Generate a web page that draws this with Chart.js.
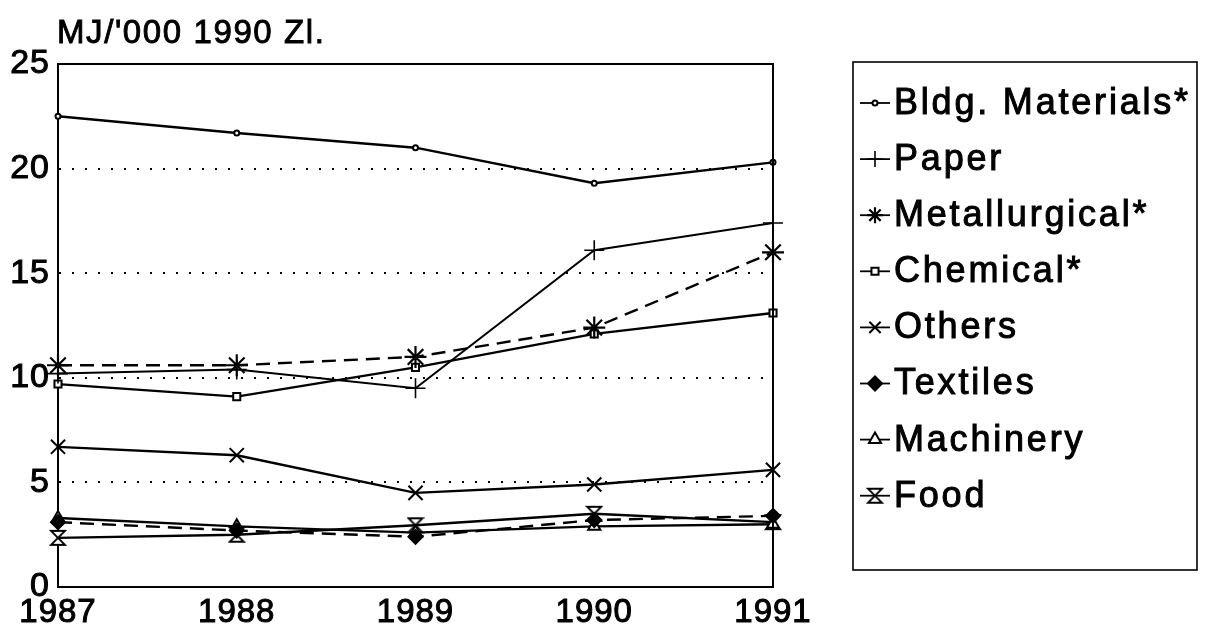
<!DOCTYPE html>
<html>
<head>
<meta charset="utf-8">
<script src="https://cdn.jsdelivr.net/npm/chart.js@4/dist/chart.umd.min.js"></script>
<style>
html,body{margin:0;padding:0;background:#fff;}
#wrap{width:1209px;height:634px;position:relative;}
</style>
</head>
<body>
<div id="wrap"><canvas id="c" width="1209" height="634"></canvas></div>
<script>
const years = ['1987', '1988', '1989', '1990', '1991'];
const bldgMaterials = [22.5, 21.7, 21.0, 19.3, 20.3];
const paper = [10.2, 10.4, 9.5, 16.1, 17.4];
const metallurgical = [10.6, 10.6, 11.0, 12.4, 16.0];
const chemical = [9.7, 9.1, 10.5, 12.1, 13.1];
const others = [6.7, 6.3, 4.5, 4.9, 5.6];
const textiles = [3.1, 2.7, 2.4, 3.2, 3.4];
const machinery = [3.3, 2.9, 2.6, 2.9, 3.0];
const food = [2.35, 2.5, 2.95, 3.5, 3.1];
const yTicks = [0, 5, 10, 15, 20, 25];
const unitLabel = "MJ/'000 1990 Zl.";
const seriesNames = ['Bldg. Materials*', 'Paper', 'Metallurgical*', 'Chemical*', 'Others', 'Textiles', 'Machinery', 'Food'];

const FONT = "'Liberation Sans', Arial, Helvetica, sans-serif";

// hourglass marker
function makeHourglass(r) {
  const s = r * 2 + 4;
  const cv = document.createElement('canvas');
  cv.width = s; cv.height = s;
  const g = cv.getContext('2d');
  const c = s / 2;
  g.lineWidth = 1.8;
  g.strokeStyle = '#000';
  g.fillStyle = '#fff';
  g.beginPath();
  g.moveTo(c - r, c - r);
  g.lineTo(c + r, c - r);
  g.lineTo(c - r, c + r);
  g.lineTo(c + r, c + r);
  g.closePath();
  g.fill();
  g.stroke();
  return cv;
}
const hourglass = makeHourglass(7);

function ds(label, data, style, radius, opts) {
  return Object.assign({
    label: label,
    data: data,
    borderColor: '#000',
    backgroundColor: '#fff',
    borderWidth: 2.4,
    pointStyle: style,
    pointRadius: radius,
    pointBorderWidth: 2,
    pointBorderColor: '#000',
    pointBackgroundColor: '#fff',
    tension: 0,
    fill: false
  }, opts || {});
}

const datasets = [
  ds(seriesNames[0], bldgMaterials, 'circle', 2.5),
  ds(seriesNames[1], paper, 'cross', 10, {pointBorderWidth: 1.6, borderWidth: 2}),
  ds(seriesNames[2], metallurgical, 'star', 11, {borderDash: [14, 8], pointBorderWidth: 2.2}),
  ds(seriesNames[3], chemical, 'rect', 5),
  ds(seriesNames[4], others, 'crossRot', 10, {pointBorderWidth: 2}),
  ds(seriesNames[5], textiles, 'rectRot', 7, {borderDash: [14, 8], pointBackgroundColor: '#000'}),
  ds(seriesNames[6], machinery, 'triangle', 7),
  ds(seriesNames[7], food, hourglass, 7)
];

const decor = {
  id: 'decor',
  beforeDraw(chart) {
    chart.ctx.letterSpacing = '1px';
  },
  afterDraw(chart) {
    const ctx = chart.ctx;
    const a = chart.chartArea;
    ctx.save();
    // frame top and right
    ctx.strokeStyle = '#000';
    ctx.lineWidth = 2;
    ctx.beginPath();
    ctx.moveTo(a.left, a.top);
    ctx.lineTo(a.right, a.top);
    ctx.lineTo(a.right, a.bottom);
    ctx.stroke();
    // unit label
    ctx.fillStyle = '#000';
    ctx.strokeStyle = '#000';
    ctx.font = '33px ' + FONT;
    ctx.letterSpacing = '1.6px';
    ctx.textBaseline = 'middle';
    ctx.textAlign = 'left';
    ctx.lineWidth = 0.9;
    ctx.fillText(unitLabel, a.left - 1, 34);
    ctx.strokeText(unitLabel, a.left - 1, 34);
    // legend
    const bx = 853, by = 62, bw = 344, bh = 508;
    ctx.lineWidth = 1.6;
    ctx.strokeRect(bx, by, bw, bh);
    ctx.font = '36px ' + FONT;
    ctx.letterSpacing = '2.8px';
    const y0 = 103, step = 56.1;
    chart.data.datasets.forEach((d, i) => {
      const y = y0 + i * step;
      ctx.strokeStyle = '#000';
      ctx.lineWidth = 1.8;
      ctx.setLineDash([]);
      ctx.beginPath();
      ctx.moveTo(860, y);
      ctx.lineTo(890, y);
      ctx.stroke();
      ctx.fillStyle = d.pointBackgroundColor;
      ctx.strokeStyle = '#000';
      ctx.lineWidth = d.pointBorderWidth;
      Chart.helpers.drawPoint(ctx, {
        pointStyle: d.pointStyle,
        radius: Math.min(d.pointRadius, 8),
        rotation: 0,
        borderWidth: d.pointBorderWidth
      }, 875, y);
      ctx.fillStyle = '#000';
      ctx.textAlign = 'left';
      ctx.textBaseline = 'middle';
      ctx.lineWidth = 1;
      ctx.fillText(d.label, 894, y + 1);
      ctx.strokeText(d.label, 894, y + 1);
    });
    ctx.restore();
  }
};

new Chart(document.getElementById('c'), {
  type: 'line',
  data: { labels: years, datasets: datasets },
  options: {
    responsive: false,
    animation: false,
    layout: { padding: { left: 0, top: 64, right: 436, bottom: 0 } },
    plugins: {
      legend: { display: false },
      title: { display: false },
      tooltip: { enabled: false }
    },
    scales: {
      x: {
        type: 'category',
        offset: false,
        afterFit(s) { s.height = 47; },
        grid: { display: false, drawTicks: false },
        border: { display: true, color: '#000', width: 2 },
        ticks: {
          color: '#000',
          font: { family: FONT, size: 33 },
          textStrokeColor: '#000',
          textStrokeWidth: 1,
          padding: 6,
          maxRotation: 0,
          autoSkip: false
        }
      },
      y: {
        min: 0,
        max: 25,
        afterFit(s) { s.width = 58; },
        afterBuildTicks(s) { s.ticks = yTicks.map(v => ({ value: v })); },
        grid: {
          drawTicks: false,
          lineWidth: 2,
          color: c => (c.tick && c.tick.value > 0 && c.tick.value < 25) ? '#000' : 'rgba(0,0,0,0)'
        },
        border: { display: true, color: '#000', width: 2, dash: [2, 11] },
        ticks: {
          color: '#000',
          font: { family: FONT, size: 34 },
          textStrokeColor: '#000',
          textStrokeWidth: 1,
          padding: 8,
          stepSize: 5
        }
      }
    }
  },
  plugins: [decor]
});
</script>
</body>
</html>
